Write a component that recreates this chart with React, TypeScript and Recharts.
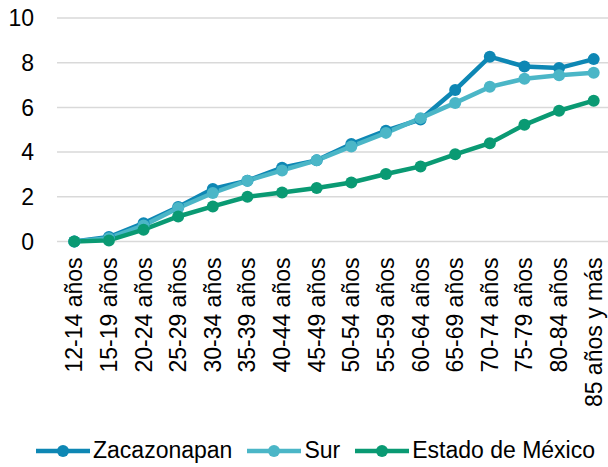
import { LineChart, Line, XAxis, YAxis, CartesianGrid, Legend } from "recharts";

const categories = [
  "12-14 años", "15-19 años", "20-24 años", "25-29 años", "30-34 años", "35-39 años",
  "40-44 años", "45-49 años", "50-54 años", "55-59 años", "60-64 años", "65-69 años",
  "70-74 años", "75-79 años", "80-84 años", "85 años y más",
];

const zacazonapan = [0, 0.2, 0.82, 1.54, 2.35, 2.72, 3.3, 3.63, 4.36, 4.96, 5.46, 6.78, 8.27, 7.83, 7.76, 8.16];
const sur = [0, 0.15, 0.72, 1.5, 2.17, 2.72, 3.18, 3.63, 4.25, 4.86, 5.52, 6.2, 6.92, 7.28, 7.44, 7.55];
const estado = [0, 0.05, 0.53, 1.12, 1.57, 2.0, 2.19, 2.39, 2.64, 3.02, 3.36, 3.9, 4.4, 5.22, 5.85, 6.3];

const yTicks = [0, 2, 4, 6, 8, 10];

const series = [
  { key: "zacazonapan", name: "Zacazonapan", color: "#0e87b4" },
  { key: "sur", name: "Sur", color: "#4bb6c7" },
  { key: "estado", name: "Estado de México", color: "#0a9a73" },
];

const data = categories.map((c, i) => ({
  cat: c,
  zacazonapan: zacazonapan[i],
  sur: sur[i],
  estado: estado[i],
}));

const FONT = '"Liberation Sans", Arial, sans-serif';

const XTick = (props: any) => {
  const { x, y, payload } = props;
  return (
    <text
      x={x}
      y={y}
      transform={`rotate(-90 ${x} ${y})`}
      textAnchor="end"
      dominantBaseline="central"
      fontSize={23}
      fontFamily={FONT}
      fill="#000"
    >
      {payload.value}
    </text>
  );
};

const renderLegend = () => (
  <div style={{ display: "flex", alignItems: "center", fontFamily: FONT, fontSize: 23, color: "#000" }}>
    {series.map((s) => (
      <div key={s.key} style={{ display: "flex", alignItems: "center", marginRight: 15 }}>
        <svg width={54} height={14} style={{ marginRight: 3 }}>
          <line x1={0} y1={7} x2={54} y2={7} stroke={s.color} strokeWidth={4.5} />
          <circle cx={27} cy={7} r={6} fill={s.color} />
        </svg>
        <span style={{ whiteSpace: "nowrap" }}>{s.name}</span>
      </div>
    ))}
  </div>
);

export default function App() {
  return (
    <div style={{ position: "absolute", left: 0, top: 0, width: 608, height: 467, overflow: "hidden", background: "#fff" }}>
      <LineChart width={611} height={467} data={data} margin={{ top: 18, right: 0, bottom: 0, left: 0 }}>
        <CartesianGrid vertical={false} stroke="#d9d9d9" strokeWidth={1.5} />
        <XAxis
          dataKey="cat"
          interval={0}
          axisLine={false}
          tickLine={false}
          tickSize={6}
          tickMargin={10}
          height={225.5}
          padding={{ left: 17.3, right: 17.3 }}
          tick={<XTick />}
        />
        <YAxis
          domain={[0, 10]}
          ticks={yTicks}
          width={57}
          axisLine={false}
          tickLine={false}
          tickSize={0}
          tickMargin={23}
          tick={{ fontSize: 23, fill: "#000", fontFamily: FONT }}
        />
        {series.map((s) => (
          <Line
            key={s.key}
            dataKey={s.key}
            name={s.name}
            stroke={s.color}
            strokeWidth={4.5}
            dot={{ r: 6, fill: s.color, stroke: s.color, strokeWidth: 0 }}
            type="linear"
            isAnimationActive={false}
          />
        ))}
        <Legend
          layout="horizontal"
          verticalAlign="middle"
          content={renderLegend}
          wrapperStyle={{ top: 437, left: 36, width: "auto" }}
        />
      </LineChart>
    </div>
  );
}
